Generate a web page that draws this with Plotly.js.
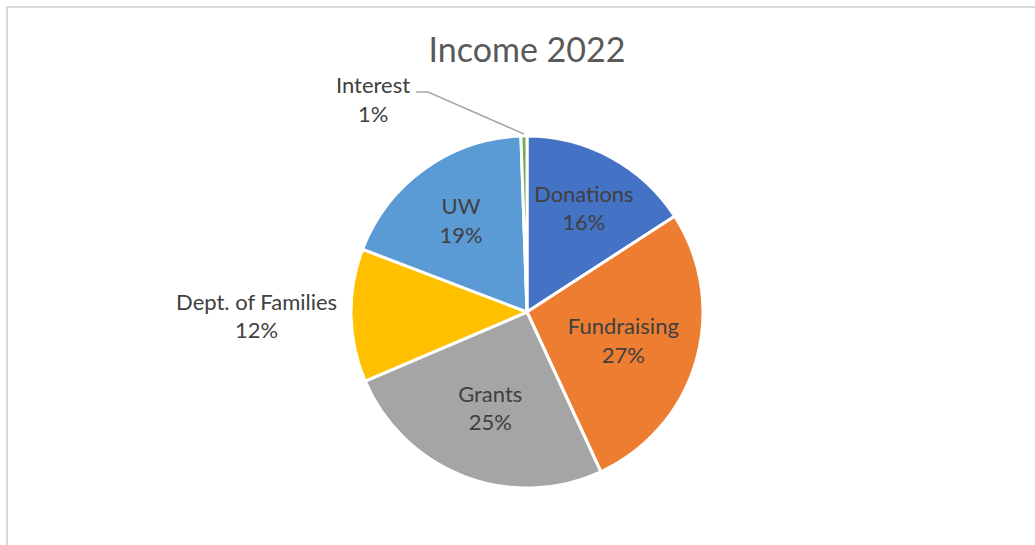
<!DOCTYPE html>
<html>
<head>
<meta charset="utf-8">
<script src="https://cdn.plot.ly/plotly-3.0.1.min.js"></script>
<style>
  html, body { margin: 0; padding: 0; background: #fff; overflow: hidden; }
  #frame { position: absolute; left: 6px; top: 6px; width: 1200px; height: 700px;
           border-top: 2px solid #d9d9d9; border-left: 2px solid #d9d9d9; }
  #chart { position: absolute; left: 0; top: 0; width: 1035px; height: 545px; }
</style>
</head>
<body>
<div id="frame"></div>
<div id="chart"></div>
<script>
// Data
const categories = ["Donations", "Fundraising", "Grants", "Dept. of Families", "UW", "Interest"];
const values = [15.8, 27.2, 25.4, 12.2, 18.6, 0.55];
const colors = ["#4472C4", "#ED7D31", "#A5A5A5", "#FFC000", "#5B9BD5", "#70AD47"];
const textPositions = ["inside", "inside", "inside", "outside", "inside", "none"];

const W = 1035, H = 545;
const cx = 527, cy = 312, R = 176;
const dom = { x: [(cx - R) / W, (cx + R) / W], y: [(H - (cy + R)) / H, (H - (cy - R)) / H] };

const FONT = "Lato, 'Open Sans', sans-serif";
const LSIZE = 22;

const trace = {
  type: "pie",
  labels: categories,
  values: values,
  sort: false,
  direction: "clockwise",
  rotation: 0,
  marker: { colors: colors, line: { color: "#ffffff", width: 3 } },
  textposition: textPositions,
  texttemplate: "%{label}<br>%{percent:.0%}",
  insidetextorientation: "horizontal",
  textfont: { family: FONT, size: LSIZE, color: "#404040" },
  insidetextfont: { family: FONT, size: LSIZE, color: "#404040" },
  outsidetextfont: { family: FONT, size: LSIZE, color: "#404040" },
  hoverinfo: "label+percent",
  domain: dom,
  showlegend: false
};

// Leader line tip for the Interest slice, computed from the data
const total = values.reduce((a, b) => a + b, 0);
const iIdx = categories.indexOf("Interest");
let before = 0;
for (let i = 0; i < iIdx; i++) before += values[i];
const midFrac = (before + values[iIdx] / 2) / total;
const theta = midFrac * 2 * Math.PI;
const tipX = cx + R * Math.sin(theta);
const tipY = cy - R * Math.cos(theta) - 2;
const pct = Math.max(1, Math.round(values[iIdx] / total * 100));

const labelX = 373, labelY = 99;  // label placement (px)
const elbowX1 = 416, elbowX2 = 428, elbowY = 92;

const layout = {
  width: W, height: H,
  margin: { l: 0, r: 0, t: 0, b: 0 },
  paper_bgcolor: "rgba(0,0,0,0)",
  plot_bgcolor: "rgba(0,0,0,0)",
  title: {
    text: "Income 2022",
    font: { family: FONT, size: 34, color: "#595959" },
    x: 527 / W, xanchor: "center",
    y: 1 - 50 / H, yanchor: "middle", yref: "container", xref: "container"
  },
  annotations: [{
    text: categories[iIdx] + "<br>" + pct + "%",
    x: labelX / W, y: 1 - labelY / H, xref: "paper", yref: "paper",
    xanchor: "center", yanchor: "middle", showarrow: false,
    font: { family: FONT, size: LSIZE, color: "#404040" }
  }],
  shapes: [{
    type: "path", xref: "paper", yref: "paper",
    path: "M " + (elbowX1 / W) + " " + (1 - elbowY / H) +
          " L " + (elbowX2 / W) + " " + (1 - elbowY / H) +
          " L " + (tipX / W) + " " + (1 - tipY / H),
    line: { color: "#A6A6A6", width: 1.5 }
  }]
};

Plotly.newPlot("chart", [trace], layout, { displayModeBar: false, staticPlot: true });
</script>
</body>
</html>
